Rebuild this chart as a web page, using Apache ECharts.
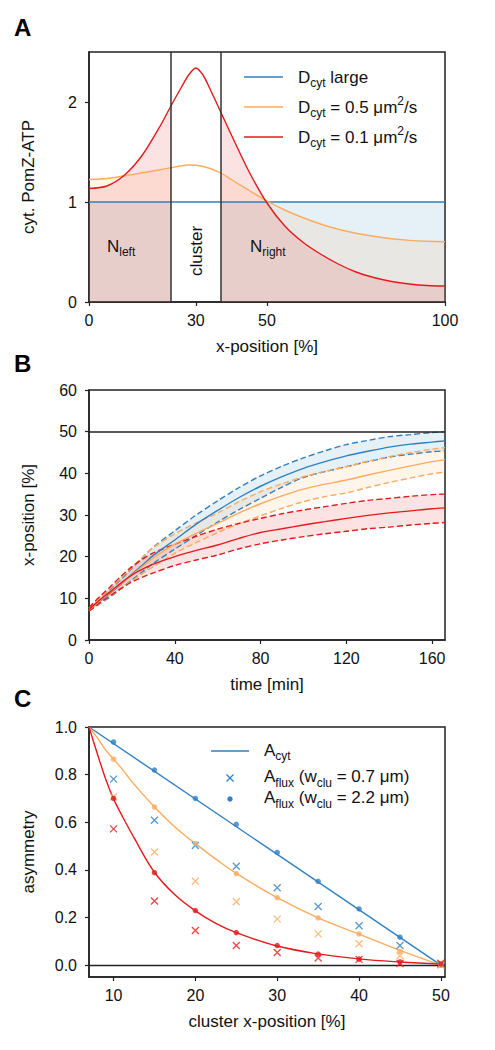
<!DOCTYPE html>
<html>
<head>
<meta charset="utf-8">
<script src="https://cdn.jsdelivr.net/npm/echarts@6/dist/echarts.min.js"></script>
<style>
  html, body { margin: 0; padding: 0; background: #fff; }
  #chart { width: 495px; height: 1050px; }
</style>
</head>
<body>
<div id="chart"></div>
<script>
// ---- panel A: cytosolic PomZ-ATP along the cell ----
var aX     = [0, 5, 10, 15, 20, 23, 26, 28, 30, 32, 34, 37, 40, 45, 50, 55, 60, 65, 70, 75, 80, 85, 90, 95, 100];
var aLarge = [1, 1, 1, 1, 1, 1, 1, 1, 1, 1, 1, 1, 1, 1, 1, 1, 1, 1, 1, 1, 1, 1, 1, 1, 1];
var aMid   = [1.225, 1.235, 1.262, 1.292, 1.322, 1.342, 1.362, 1.37, 1.367, 1.355, 1.335, 1.29, 1.225, 1.115, 1.01, 0.92, 0.845, 0.78, 0.728, 0.688, 0.657, 0.632, 0.616, 0.607, 0.603];
var aSmall = [1.135, 1.16, 1.27, 1.47, 1.76, 1.96, 2.15, 2.27, 2.34, 2.27, 2.13, 1.90, 1.67, 1.30, 0.99, 0.76, 0.60, 0.48, 0.38, 0.30, 0.245, 0.205, 0.18, 0.165, 0.16];
var clusterEdges = [23, 37];
var aXTicks = [0, 30, 50, 100];
var aYTicks = [0, 1, 2];

// ---- panel B: cluster position over time (mean and bounds) ----
var bT        = [0, 5, 10, 15, 20, 25, 30, 40, 50, 60, 70, 80, 90, 100, 110, 120, 130, 140, 150, 160, 166];
var bBlueMean = [7.3, 9.3, 11.3, 13.4, 15.8, 18.0, 20.3, 24.0, 27.8, 31.1, 34.2, 36.9, 39.2, 41.2, 42.8, 44.2, 45.3, 46.3, 47.0, 47.5, 47.8];
var bBlueUp   = [7.6, 9.9, 12.2, 14.6, 17.2, 19.8, 22.3, 26.2, 30.0, 33.4, 36.6, 39.4, 41.7, 43.7, 45.4, 46.9, 47.9, 48.8, 49.3, 49.8, 50.0];
var bBlueLow  = [7.0, 8.7, 10.4, 12.3, 14.4, 16.4, 18.4, 21.8, 25.1, 28.3, 31.3, 34.0, 36.7, 39.0, 40.4, 41.6, 42.8, 43.9, 44.6, 45.2, 45.4];
var bOrMean   = [7.3, 9.4, 11.5, 13.5, 15.6, 17.7, 19.7, 23.0, 25.6, 28.0, 30.5, 32.7, 34.6, 36.2, 37.4, 38.4, 39.6, 40.7, 41.8, 42.8, 43.3];
var bOrUp     = [7.6, 10.0, 12.4, 14.9, 17.4, 19.9, 22.2, 25.5, 28.1, 30.5, 33.2, 35.6, 37.5, 39.2, 40.5, 41.6, 42.9, 44.0, 45.0, 45.8, 46.2];
var bOrLow    = [7.0, 8.8, 10.6, 12.4, 14.2, 16.0, 17.6, 20.8, 23.4, 25.8, 27.9, 29.8, 31.6, 33.2, 34.4, 35.3, 36.6, 37.8, 38.9, 39.9, 40.3];
var bRedMean  = [7.3, 9.6, 11.6, 13.7, 15.6, 17.0, 18.2, 20.0, 21.5, 22.8, 24.4, 25.8, 26.7, 27.6, 28.4, 29.2, 29.9, 30.5, 31.0, 31.5, 31.7];
var bRedUp    = [7.8, 10.4, 12.8, 15.3, 17.6, 19.4, 20.9, 23.0, 24.9, 26.6, 28.0, 29.2, 30.3, 31.2, 32.0, 32.8, 33.5, 34.0, 34.5, 34.9, 35.0];
var bRedLow   = [6.9, 8.9, 10.7, 12.4, 13.9, 15.1, 16.1, 17.9, 19.2, 20.4, 21.9, 23.1, 24.0, 24.8, 25.5, 26.1, 26.7, 27.1, 27.6, 28.0, 28.2];
var bXTicks = [0, 40, 80, 120, 160];

// ---- panel C: asymmetry vs cluster position ----
var cX          = [10, 15, 20, 25, 30, 35, 40, 45, 50];
var cBlueDot    = [0.937, 0.819, 0.700, 0.591, 0.473, 0.352, 0.236, 0.117, 0.0];
var cOrDot      = [0.865, 0.664, 0.511, 0.384, 0.283, 0.198, 0.131, 0.058, 0.0];
var cRedDot     = [0.700, 0.388, 0.229, 0.136, 0.082, 0.046, 0.025, 0.014, 0.005];
var cBlueCross  = [0.781, 0.608, 0.502, 0.415, 0.325, 0.246, 0.165, 0.082, 0.004];
var cOrCross    = [0.707, 0.475, 0.352, 0.266, 0.193, 0.131, 0.090, 0.039, 0.0];
var cRedCross   = [0.572, 0.269, 0.145, 0.082, 0.053, 0.030, 0.024, 0.007, 0.008];
var cBlueLineX  = [7, 50];
var cBlueLine   = [1.0, 0.0];
var cCurveX     = [7, 8, 9, 10, 11, 12.5, 15, 17.5, 20, 22.5, 25, 30, 35, 40, 45, 50];
var cOrCurve    = [1.0, 0.955, 0.905, 0.865, 0.825, 0.76, 0.664, 0.58, 0.51, 0.445, 0.385, 0.283, 0.198, 0.13, 0.062, 0.0];
var cRedCurve   = [1.0, 0.89, 0.785, 0.698, 0.63, 0.535, 0.39, 0.295, 0.228, 0.175, 0.136, 0.08, 0.047, 0.026, 0.013, 0.004];
var cXTicks = [10, 20, 30, 40, 50];
var cYTicks = [0, 0.2, 0.4, 0.6, 0.8, 1.0];

var BLUE = '#2f80c0';
var ORANGE = '#fdab5e';
var RED = '#e31a1c';
var INK = '#111';
var FONT = '"Liberation Sans", Arial, Helvetica, sans-serif';

function pairs(xs, ys) {
  return xs.map(function (x, i) { return [x, ys[i]]; });
}
// area only outside the cluster region
function gap(ys) {
  return aX.map(function (x, i) {
    return (x > clusterEdges[0] && x < clusterEdges[1]) ? [x, '-'] : [x, ys[i]];
  });
}

var richSub = {
  sub: { fontSize: 12, lineHeight: 12, verticalAlign: 'bottom', fontFamily: FONT, color: INK },
  sup: { fontSize: 12, lineHeight: 12, verticalAlign: 'top', fontFamily: FONT, color: INK }
};

function axisBase(extra) {
  var o = {
    type: 'value',
    axisLine: { show: true, onZero: false, lineStyle: { color: '#222', width: 1.5 } },
    axisTick: { show: true, length: 4, lineStyle: { color: '#222', width: 1.2 } },
    axisLabel: { fontSize: 16, color: INK, fontFamily: FONT, fontWeight: 'normal' },
    splitLine: { show: false },
    nameLocation: 'middle',
    nameTextStyle: { fontSize: 17, color: INK, fontFamily: FONT, fontWeight: 'normal' }
  };
  for (var k in extra) {
    if (typeof extra[k] === 'object' && o[k] && !Array.isArray(extra[k])) {
      for (var j in extra[k]) o[k][j] = extra[k][j];
    } else {
      o[k] = extra[k];
    }
  }
  return o;
}

var legendNames = {
  large: 'D{sub|cyt} large',
  mid: 'D{sub|cyt} = 0.5 μm{sup|2}/s',
  small: 'D{sub|cyt} = 0.1 μm{sup|2}/s'
};

var series = [];

// panel A fills
[[aLarge, BLUE], [aMid, ORANGE], [aSmall, RED]].forEach(function (s) {
  series.push({
    type: 'line', xAxisIndex: 0, yAxisIndex: 0, data: gap(s[0]),
    smooth: 0.3, showSymbol: false, silent: true, z: 1,
    lineStyle: { width: 0 },
    areaStyle: { color: s[1], opacity: 0.12 }
  });
});
// panel A lines
[['large', aLarge, BLUE], ['mid', aMid, ORANGE], ['small', aSmall, RED]].forEach(function (s) {
  series.push({
    name: s[0], type: 'line', xAxisIndex: 0, yAxisIndex: 0, data: pairs(aX, s[1]),
    smooth: 0.3, showSymbol: false, z: 3, color: s[2],
    lineStyle: { color: s[2], width: 1.4 }
  });
});
series[series.length - 1].markLine = {
  silent: true, symbol: 'none', label: { show: false },
  lineStyle: { color: '#333', width: 1.5, type: 'solid' },
  data: clusterEdges.map(function (e) { return { xAxis: e }; })
};

// panel B: shaded band between the bounds, drawn as one polygon
function band(low, up, c) {
  return {
    type: 'custom', xAxisIndex: 1, yAxisIndex: 1, silent: true, z: 1,
    data: bT.map(function (t, i) { return [t, low[i], up[i]]; }),
    encode: { x: 0, y: [1, 2] },
    renderItem: function (params, api) {
      if (params.dataIndex !== 0) return;
      var top = bT.map(function (t, i) { return api.coord([t, up[i]]); });
      var bottom = bT.map(function (t, i) { return api.coord([t, low[i]]); }).reverse();
      return {
        type: 'polygon',
        shape: { points: top.concat(bottom) },
        style: { fill: c, opacity: 0.12 }
      };
    }
  };
}

[[bBlueLow, bBlueUp, bBlueMean, BLUE], [bOrLow, bOrUp, bOrMean, ORANGE], [bRedLow, bRedUp, bRedMean, RED]].forEach(function (s) {
  var c = s[3];
  series.push(band(s[0], s[1], c));
  [s[0], s[1]].forEach(function (b) {
    series.push({
      type: 'line', xAxisIndex: 1, yAxisIndex: 1, data: pairs(bT, b),
      smooth: 0.3, showSymbol: false, z: 3,
      lineStyle: { color: c, width: 1.4, type: [6, 3] }
    });
  });
  series.push({
    type: 'line', xAxisIndex: 1, yAxisIndex: 1, data: pairs(bT, s[2]),
    smooth: 0.3, showSymbol: false, z: 4,
    lineStyle: { color: c, width: 1.4 }
  });
});
series[series.length - 1].markLine = {
  silent: true, symbol: 'none', label: { show: false },
  lineStyle: { color: '#222', width: 1.5, type: 'solid' },
  data: [{ yAxis: 50 }]
};

// panel C curves
series.push({
  type: 'line', xAxisIndex: 2, yAxisIndex: 2, data: pairs(cBlueLineX, cBlueLine),
  showSymbol: false, z: 3, lineStyle: { color: BLUE, width: 1.4 },
  markLine: {
    silent: true, symbol: 'none', label: { show: false },
    lineStyle: { color: '#222', width: 1.3, type: 'solid' },
    data: [{ yAxis: 0 }]
  }
});
[[cOrCurve, ORANGE], [cRedCurve, RED]].forEach(function (s) {
  series.push({
    type: 'line', xAxisIndex: 2, yAxisIndex: 2, data: pairs(cCurveX, s[0]),
    smooth: 0.4, showSymbol: false, z: 3, lineStyle: { color: s[1], width: 1.4 }
  });
});
var CROSS = 'path://M0 0L10 10M10 0L0 10';
[[cBlueCross, BLUE], [cOrCross, ORANGE], [cRedCross, RED]].forEach(function (s) {
  series.push({
    type: 'scatter', xAxisIndex: 2, yAxisIndex: 2, data: pairs(cX, s[0]),
    symbol: CROSS, symbolSize: 7, z: 5,
    itemStyle: { color: 'transparent', borderColor: s[1], borderWidth: 1.3 }
  });
});
[[cBlueDot, BLUE], [cOrDot, ORANGE], [cRedDot, RED]].forEach(function (s) {
  series.push({
    type: 'scatter', xAxisIndex: 2, yAxisIndex: 2, data: pairs(cX, s[0]),
    symbol: 'circle', symbolSize: 5.5, z: 6,
    itemStyle: { color: s[1] }
  });
});

var gridBox = { show: true, borderColor: '#222', borderWidth: 1.5, backgroundColor: 'transparent', outerBoundsMode: 'none' };
function grid(top) {
  var g = { left: 89, width: 356, top: top, height: 250 };
  for (var k in gridBox) g[k] = gridBox[k];
  return g;
}

var option = {
  animation: false,
  backgroundColor: '#fff',
  textStyle: { fontFamily: FONT },
  grid: [grid(52), grid(390), grid(727)],
  xAxis: [
    axisBase({ gridIndex: 0, min: 0, max: 100, name: 'x-position [%]', nameGap: 36,
      axisTick: { customValues: aXTicks }, axisLabel: { customValues: aXTicks, margin: 10 } }),
    axisBase({ gridIndex: 1, min: 0, max: 166, name: 'time [min]', nameGap: 36,
      axisTick: { customValues: bXTicks }, axisLabel: { customValues: bXTicks, margin: 10 } }),
    axisBase({ gridIndex: 2, min: 7, max: 50.5, name: 'cluster x-position [%]', nameGap: 36,
      axisTick: { customValues: cXTicks }, axisLabel: { customValues: cXTicks, margin: 10 } })
  ],
  yAxis: [
    axisBase({ gridIndex: 0, min: 0, max: 2.5, name: 'cyt. PomZ-ATP', nameGap: 52,
      axisTick: { customValues: aYTicks }, axisLabel: { customValues: aYTicks, margin: 12 } }),
    axisBase({ gridIndex: 1, min: 0, max: 60, interval: 10, name: 'x-position [%]', nameGap: 52,
      axisLabel: { margin: 12 } }),
    axisBase({ gridIndex: 2, min: -0.05, max: 1.0, name: 'asymmetry', nameGap: 52,
      axisTick: { customValues: cYTicks },
      axisLabel: { customValues: cYTicks, margin: 12, formatter: function (v) { return v.toFixed(1); } } })
  ],
  legend: [{
    left: 244, top: 65, orient: 'vertical', padding: 0, selectedMode: false,
    icon: 'rect', itemWidth: 39, itemHeight: 1.5, itemGap: 6,
    data: ['large', 'mid', 'small'],
    formatter: function (name) { return legendNames[name]; },
    textStyle: { fontSize: 17, lineHeight: 24, color: INK, fontFamily: FONT, padding: [0, 0, 0, 10], rich: richSub }
  }],
  graphic: [
    { type: 'text', left: 14, top: 15, style: { text: 'A', font: 'bold 24px ' + FONT, fill: '#000' } },
    { type: 'text', left: 14, top: 351, style: { text: 'B', font: 'bold 24px ' + FONT, fill: '#000' } },
    { type: 'text', left: 14, top: 686, style: { text: 'C', font: 'bold 24px ' + FONT, fill: '#000' } },
    { type: 'text', x: 107, y: 234, z: 10, style: { text: 'N{sub|left}', fontSize: 17, lineHeight: 24, fontFamily: FONT, fill: INK, rich: richSub } },
    { type: 'text', x: 250, y: 234, z: 10, style: { text: 'N{sub|right}', fontSize: 17, lineHeight: 24, fontFamily: FONT, fill: INK, rich: richSub } },
    { type: 'text', x: 196, y: 251, rotation: Math.PI / 2, z: 10,
      style: { text: 'cluster', fontSize: 17, fontFamily: FONT, fill: INK, align: 'center', verticalAlign: 'middle' } },
    // panel C legend
    { type: 'line', z: 10, shape: { x1: 211, y1: 751, x2: 249, y2: 751 }, style: { stroke: BLUE, lineWidth: 1.4 } },
    { type: 'polyline', z: 10, shape: { points: [[226.5, 774.5], [233.5, 781.5]] }, style: { stroke: BLUE, lineWidth: 1.3, fill: null } },
    { type: 'polyline', z: 10, shape: { points: [[233.5, 774.5], [226.5, 781.5]] }, style: { stroke: BLUE, lineWidth: 1.3, fill: null } },
    { type: 'circle', z: 10, shape: { cx: 230, cy: 799, r: 2.7 }, style: { fill: BLUE } },
    { type: 'text', x: 264, y: 738, z: 10, style: { text: 'A{sub|cyt}', fontSize: 17, lineHeight: 24, fontFamily: FONT, fill: INK, rich: richSub } },
    { type: 'text', x: 264, y: 764.5, z: 10, style: { text: 'A{sub|flux} (w{sub|clu} = 0.7 μm)', fontSize: 17, lineHeight: 24, fontFamily: FONT, fill: INK, rich: richSub } },
    { type: 'text', x: 264, y: 785.5, z: 10, style: { text: 'A{sub|flux} (w{sub|clu} = 2.2 μm)', fontSize: 17, lineHeight: 24, fontFamily: FONT, fill: INK, rich: richSub } }
  ],
  series: series
};

var myChart = echarts.init(document.getElementById('chart'), null, { renderer: 'svg' });
myChart.setOption(option);
</script>
</body>
</html>
